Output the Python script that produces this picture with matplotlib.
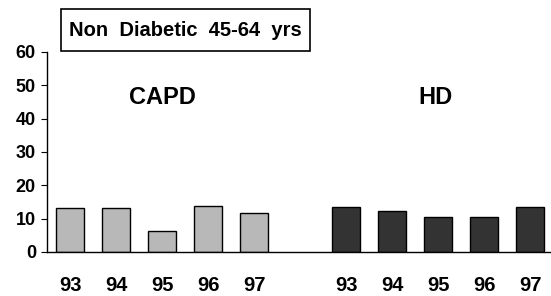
import matplotlib
matplotlib.use('Agg')
import matplotlib.pyplot as plt
from matplotlib.patches import Rectangle
import numpy as np

plt.rcParams['font.family'] = ['Liberation Sans', 'DejaVu Sans']
plt.rcParams['font.weight'] = 'bold'

years = ['93', '94', '95', '96', '97']
capd = [13.1, 13.1, 6.4, 13.8, 11.6]
hd = [13.6, 12.2, 10.6, 10.6, 13.6]

W, H = 551, 296
fig = plt.figure(figsize=(W / 100, H / 100), dpi=100)
ax = fig.add_axes([47 / W, 1 - 252 / H, (550 - 47) / W, 200 / H])

x_capd = np.arange(5)
x_hd = np.arange(5) + 6
ax.bar(x_capd, capd, width=0.62, color='#b8b8b8', edgecolor='black', linewidth=1)
ax.bar(x_hd, hd, width=0.62, color='#333333', edgecolor='black', linewidth=1)

ax.set_xlim(-0.5, 10.43)
ax.set_ylim(0, 60)
ax.set_yticks(range(0, 61, 10))
ax.set_xticks(list(x_capd) + list(x_hd))
ax.set_xticklabels(years + years, fontsize=14.5, fontweight='bold')
ax.tick_params(axis='x', length=0, pad=17)
ax.tick_params(axis='y', length=4, direction='out', labelsize=13, pad=4)
for lbl in ax.get_yticklabels():
    lbl.set_fontweight('bold')

ax.spines['top'].set_visible(False)
ax.spines['right'].set_visible(False)
ax.spines['left'].set_linewidth(1)
ax.spines['bottom'].set_linewidth(1)

ax.text(2, 46.5, 'CAPD', ha='center', va='center', fontsize=17, fontweight='bold')
ax.text(7.95, 46.5, 'HD', ha='center', va='center', fontsize=17, fontweight='bold')

fig.patches.append(Rectangle((61 / W, 1 - 51 / H), (310 - 61) / W, 42 / H,
                             transform=fig.transFigure, facecolor='white',
                             edgecolor='black', linewidth=1.2))
fig.text(185.5 / W, 1 - 30.5 / H, 'Non  Diabetic  45-64  yrs', ha='center', va='center',
         fontsize=14.5, fontweight='bold')

fig.savefig('out.png', dpi=100)
